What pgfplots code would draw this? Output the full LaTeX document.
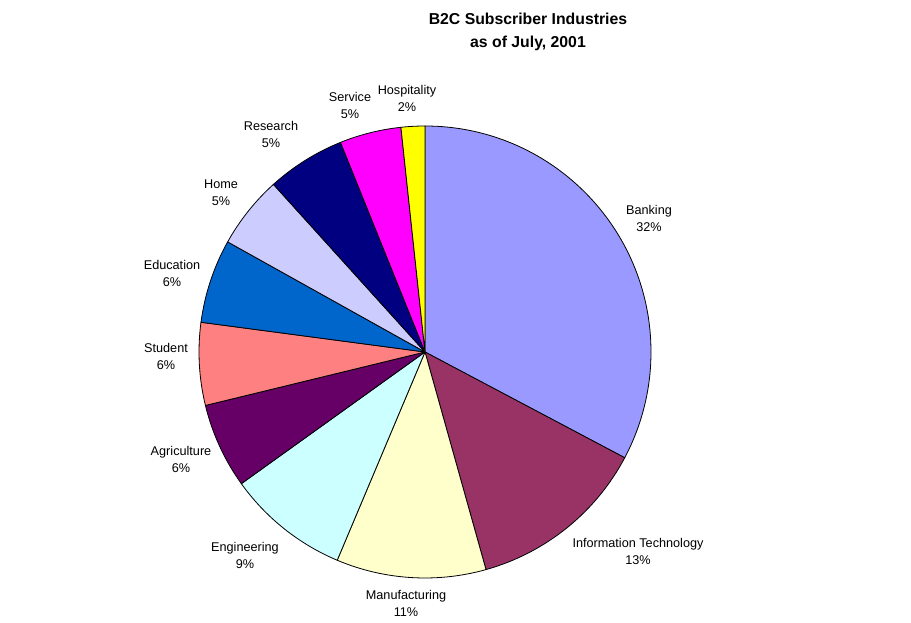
\documentclass[border=0pt]{standalone}
\usepackage{pgfplots}
\usepackage{pgfplotstable}
\pgfplotsset{compat=1.18}
\usepackage{fontspec}
\setmainfont{Liberation Sans}
\definecolor{cBank}{HTML}{9999FF}
\definecolor{cIT}{HTML}{993366}
\definecolor{cMan}{HTML}{FFFFCC}
\definecolor{cEng}{HTML}{CCFFFF}
\definecolor{cAgr}{HTML}{660066}
\definecolor{cStu}{HTML}{FF8080}
\definecolor{cEdu}{HTML}{0066CC}
\definecolor{cHom}{HTML}{CCCCFF}
\definecolor{cRes}{HTML}{000080}
\definecolor{cSer}{HTML}{FF00FF}
\definecolor{cHos}{HTML}{FFFF00}
\tikzset{lbl/.style={font=\fontsize{9.5}{12.75}\selectfont, align=center, inner sep=0pt}}
\pgfplotstableread[col sep=comma]{
share,col,lx,ly,label,pct
32.75,cBank,649,218,Banking,32
12.9,cIT,638,551,Information Technology,13
10.7,cMan,406,603,Manufacturing,11
8.75,cEng,245,555,Engineering,9
6.1,cAgr,181,459,Agriculture,6
5.9,cStu,166,356,Student,6
6.0,cEdu,172,273,Education,6
5.2,cHom,221,193,Home,5
5.6,cRes,271,134,Research,5
4.4,cSer,350,105,Service,5
1.7,cHos,407,98,Hospitality,2
}\piedata
\begin{document}
\begin{tikzpicture}
\begin{axis}[scale only axis, width=683.25pt, height=467.25pt,
  xmin=0, xmax=911, ymin=0, ymax=623, y dir=reverse, hide axis, clip=false]
\path (rel axis cs:0,0) rectangle (rel axis cs:1,1);
\xdef\curang{90}
\pgfplotsforeachungrouped \i in {0,...,10}{%
  \pgfplotstablegetelem{\i}{share}\of\piedata \let\vshare\pgfplotsretval
  \pgfplotstablegetelem{\i}{col}\of\piedata \let\vcol\pgfplotsretval
  \pgfplotstablegetelem{\i}{lx}\of\piedata \let\vx\pgfplotsretval
  \pgfplotstablegetelem{\i}{ly}\of\piedata \let\vy\pgfplotsretval
  \pgfplotstablegetelem{\i}{label}\of\piedata \let\vlab\pgfplotsretval
  \pgfplotstablegetelem{\i}{pct}\of\piedata \let\vpct\pgfplotsretval
  \pgfmathsetmacro\endang{\curang-3.6*\vshare}%
  \edef\doit{\noexpand\fill[fill=\vcol, draw=black, line width=0.6pt, line join=round]
    (axis cs:425,352) -- ++(\curang:169.5pt) arc[start angle=\curang, end angle=\endang, radius=169.5pt] -- cycle;
    \noexpand\node[lbl] at (axis cs:\vx,\vy) {\vlab\noexpand\\\vpct\noexpand\%};}%
  \doit
  \xdef\curang{\endang}%
}
\node[font=\bfseries\fontsize{11.85}{17.25}\selectfont, align=center, inner sep=0pt] at (axis cs:528,31.5) {B2C Subscriber Industries\\as of July, 2001};
\end{axis}
\end{tikzpicture}
\end{document}
